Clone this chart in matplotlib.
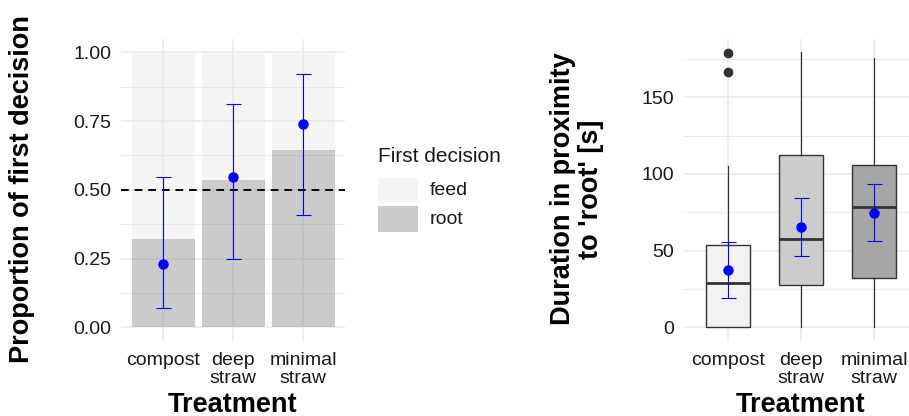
import matplotlib
matplotlib.use("Agg")
import matplotlib.pyplot as plt
from matplotlib.patches import Rectangle
import numpy as np

plt.rcParams['font.family'] = ['Liberation Sans', 'DejaVu Sans']

# data
treatments = ['compost', 'deep\nstraw', 'minimal\nstraw']
root_prop = [0.32, 0.535, 0.645]
feed_prop = [0.68, 0.465, 0.355]
est_prop = [0.23, 0.545, 0.74]
est_lo = [0.07, 0.25, 0.41]
est_hi = [0.545, 0.81, 0.92]

box_q1 = [0.0, 27.8, 32.2]
box_med = [29.0, 57.4, 78.5]
box_q3 = [53.7, 112.2, 105.7]
whis_lo = [0.0, 0.0, 0.0]
whis_hi = [105.2, 179.3, 175.4]
outliers = [[166.5, 178.7], [], []]
dur_mean = [37.4, 65.4, 74.6]
dur_lo = [18.9, 46.7, 56.1]
dur_hi = [55.9, 84.1, 93.3]

box_colors = ['#F2F2F2', '#CCCCCC', '#A6A6A6']
grid_c = '#EBEBEB'
txt_c = '#1A1A1A'

W, H = 909, 416
fig = plt.figure(figsize=(W / 100, H / 100), dpi=100)

def style(ax):
    for s in ax.spines.values():
        s.set_visible(False)
    ax.tick_params(length=0, labelsize=14, labelcolor=txt_c)
    ax.tick_params(axis='x', pad=8)
    ax.tick_params(axis='y', pad=7)
    ax.grid(True, which='major', color=grid_c, lw=1.2, zorder=0)
    ax.grid(True, which='minor', axis='y', color=grid_c, lw=0.7, zorder=0)
    ax.set_axisbelow(True)

# left panel
ax1 = fig.add_axes([121 / W, 75 / H, 224 / W, 302.5 / H])
style(ax1)
x = np.arange(len(treatments))
ax1.bar(x, root_prop, width=0.9, color='#7F7F7F', alpha=0.4, lw=0, zorder=1)
ax1.bar(x, feed_prop, bottom=root_prop, width=0.9, color='#E8E8E8', alpha=0.4, lw=0, zorder=1)
ax1.axhline(0.5, color='black', ls=(0, (4, 3)), lw=1.4, zorder=2)
ax1.errorbar(x, est_prop,
             yerr=[np.array(est_prop) - np.array(est_lo), np.array(est_hi) - np.array(est_prop)],
             fmt='o', color='blue', ms=6.5, elinewidth=0.8, capsize=5.4, capthick=0.8, zorder=3)
ax1.set_xlim(-0.6, 2.6)
ax1.set_ylim(-0.05, 1.05)
ax1.set_yticks([0, 0.25, 0.5, 0.75, 1.0])
ax1.set_yticklabels(['0.00', '0.25', '0.50', '0.75', '1.00'])
ax1.set_yticks([0.125, 0.375, 0.625, 0.875], minor=True)
ax1.tick_params(which='minor', length=0)
ax1.set_xticks(x)
ax1.set_xticklabels(treatments, linespacing=1.05)

# legend
fig.text(377.7 / W, 1 - 157 / H, 'First decision', fontsize=15, color=txt_c, ha='left', va='center')
fig.add_artist(Rectangle((377.7 / W, 1 - 203.3 / H), 40 / W, 25.6 / H,
                         transform=fig.transFigure, color='#E8E8E8', alpha=0.4, lw=0))
fig.add_artist(Rectangle((377.7 / W, 1 - 231.7 / H), 40 / W, 25.6 / H,
                         transform=fig.transFigure, color='#7F7F7F', alpha=0.4, lw=0))
fig.text(430 / W, 1 - 190.5 / H, 'feed', fontsize=14, color=txt_c, ha='left', va='center')
fig.text(430 / W, 1 - 219 / H, 'root', fontsize=14, color=txt_c, ha='left', va='center')

# right panel
ax2 = fig.add_axes([684 / W, 75 / H, 234.3 / W, 302.5 / H])
style(ax2)
stats = []
for i in range(len(treatments)):
    stats.append(dict(q1=box_q1[i], med=box_med[i], q3=box_q3[i],
                      whislo=whis_lo[i], whishi=whis_hi[i], fliers=outliers[i]))
bp = ax2.bxp(stats, positions=x, widths=0.6, patch_artist=True, showcaps=False,
             boxprops=dict(edgecolor='#333333', lw=1.0),
             whiskerprops=dict(color='#333333', lw=0.9),
             medianprops=dict(color='#333333', lw=2.0),
             flierprops=dict(marker='o', markerfacecolor='#333333', markeredgecolor='#333333', ms=6),
             zorder=2)
for patch, c in zip(bp['boxes'], box_colors):
    patch.set_facecolor(c)
ax2.errorbar(x, dur_mean,
             yerr=[np.array(dur_mean) - np.array(dur_lo), np.array(dur_hi) - np.array(dur_mean)],
             fmt='o', color='blue', ms=6.5, elinewidth=0.8, capsize=5.4, capthick=0.8, zorder=4)
ax2.set_xlim(-0.6, 2.6)
ax2.set_ylim(-8.97, 188.3)
ax2.set_yticks([0, 50, 100, 150])
ax2.set_yticks([25, 75, 125, 175], minor=True)
ax2.tick_params(which='minor', length=0)
ax2.set_xticks(x)
ax2.set_xticklabels(treatments, linespacing=1.05)

# axis titles
fig.text(22 / W, 1 - 189 / H, 'Proportion of first decision', fontsize=19.5, fontweight='bold',
         rotation=90, ha='center', va='center', color='black')
fig.text(577.5 / W, 1 - 189 / H, "Duration in proximity\nto 'root' [s]", fontsize=19.5,
         fontweight='bold', rotation=90, ha='center', va='center', multialignment='center',
         linespacing=1.1, color='black')
fig.text(233 / W, 4.5 / H, 'Treatment', fontsize=19.5, fontweight='bold', ha='center',
         va='baseline', color='black')
fig.text(801 / W, 4.5 / H, 'Treatment', fontsize=19.5, fontweight='bold', ha='center',
         va='baseline', color='black')

fig.savefig('out.png', dpi=100)
